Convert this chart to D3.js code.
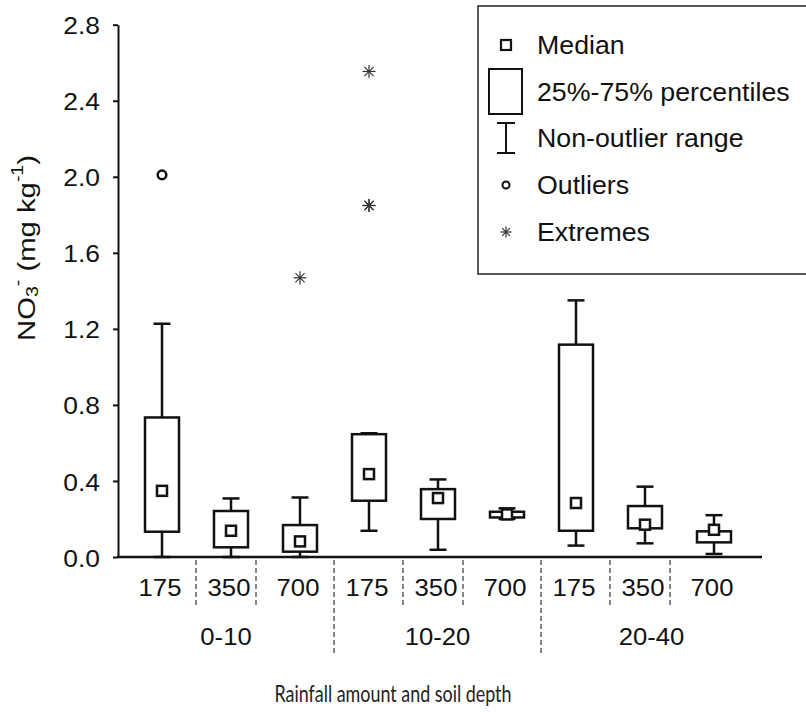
<!DOCTYPE html>
<html>
<head>
<meta charset="utf-8">
<script src="https://cdn.jsdelivr.net/npm/d3@7"></script>
<style>
  body { margin: 0; background: #fff; }
  text { font-family: "Liberation Sans", Arial, sans-serif; fill: #111; }
</style>
</head>
<body>
<div id="chart-area"></div>
<script>
// soil depth groups and rainfall treatments
var depths = ["0-10", "10-20", "20-40"];
var rainfall = ["175", "350", "700"];

// box statistics, one entry per depth x rainfall cell
var whiskerLow  = [0.00, 0.00, 0.00, 0.138, 0.038, 0.200, 0.060, 0.072, 0.016];
var q1          = [0.133, 0.051, 0.028, 0.296, 0.200, 0.208, 0.138, 0.151, 0.077];
var medians     = [0.348, 0.138, 0.082, 0.436, 0.310, 0.224, 0.284, 0.170, 0.143];
var q3          = [0.734, 0.242, 0.168, 0.646, 0.357, 0.238, 1.117, 0.268, 0.135];
var whiskerHigh = [1.227, 0.308, 0.313, 0.651, 0.408, 0.256, 1.350, 0.370, 0.220];

// points beyond the whiskers (cell index, value)
var outlierCell = [0];
var outlierVal  = [2.01];
var extremeCell = [2, 3, 3, 3];
var extremeVal  = [1.469, 2.554, 1.849, 1.849];

var yTicks = [0, 0.4, 0.8, 1.2, 1.6, 2.0, 2.4, 2.8];

var cells = [];
depths.forEach(function (d, gi) {
    rainfall.forEach(function (r, ri) {
        var i = gi * 3 + ri;
        cells.push({
            key: d + "|" + r, depth: d, rain: r,
            lo: whiskerLow[i], q1: q1[i], med: medians[i], q3: q3[i], hi: whiskerHigh[i]
        });
    });
});

var width = 806, height = 712;
var axisLeft = 118, axisRight = 762, axisBottom = 557, axisTop = 24.7;
var boxW = 34, capW = 17, medW = 10;

var svg = d3.select("#chart-area").append("svg")
    .attr("width", width)
    .attr("height", height);

var x = d3.scalePoint()
    .domain(cells.map(function (d) { return d.key; }))
    .range([162, 714]);

var y = d3.scaleLinear()
    .domain([0, 2.8])
    .range([axisBottom, axisTop]);

// text that is drawn a little wide, like the exported figure
function wideText(parent, tx, ty, str, size, sx, anchor) {
    var g = parent.append("g").attr("transform", "translate(" + tx + "," + ty + ")");
    return g.append("text")
        .attr("transform", "scale(" + sx + ",1)")
        .attr("text-anchor", anchor || "middle")
        .attr("dominant-baseline", "central")
        .attr("font-size", size + "px")
        .text(str);
}

// Y axis
var yAxis = svg.append("g")
    .attr("transform", "translate(" + axisLeft + ",0)")
    .call(d3.axisLeft(y).tickValues(yTicks).tickSize(5).tickSizeOuter(0).tickFormat(""));
yAxis.select(".domain").attr("stroke", "#111").attr("stroke-width", 2);
yAxis.selectAll(".tick line").attr("stroke", "#111").attr("stroke-width", 2);

yTicks.forEach(function (t) {
    wideText(svg, 100, y(t) + 1, d3.format(".1f")(t), 24, 1.1, "end");
});

// X axis line
svg.append("line")
    .attr("x1", axisLeft - 1).attr("x2", axisRight)
    .attr("y1", axisBottom).attr("y2", axisBottom)
    .attr("stroke", "#111").attr("stroke-width", 2.5);

// Y axis title, stretched along its baseline
var yTitle = svg.append("g")
    .attr("transform", "translate(27,248) rotate(-90)")
    .append("text")
    .attr("transform", "scale(1.22,1)")
    .attr("text-anchor", "middle")
    .attr("dominant-baseline", "central")
    .attr("font-size", "24px");
yTitle.append("tspan").text("NO");
yTitle.append("tspan").attr("font-size", "16px").attr("dy", 6).text("3");
yTitle.append("tspan").attr("font-size", "16px").attr("dy", -15).text("-");
yTitle.append("tspan").attr("dy", 9).text(" (mg kg");
yTitle.append("tspan").attr("font-size", "16px").attr("dy", -9).text("-1");
yTitle.append("tspan").attr("dy", 9).text(")");

// whiskers
var boxes = svg.append("g").selectAll("g.box")
    .data(cells)
    .enter().append("g")
    .attr("class", "box");

boxes.append("line")
    .attr("x1", function (d) { return x(d.key); })
    .attr("x2", function (d) { return x(d.key); })
    .attr("y1", function (d) { return y(d.lo); })
    .attr("y2", function (d) { return y(d.hi); })
    .attr("stroke", "#111").attr("stroke-width", 2.5);

["lo", "hi"].forEach(function (k) {
    boxes.append("line")
        .attr("x1", function (d) { return x(d.key) - capW / 2; })
        .attr("x2", function (d) { return x(d.key) + capW / 2; })
        .attr("y1", function (d) { return y(d[k]); })
        .attr("y2", function (d) { return y(d[k]); })
        .attr("stroke", "#111").attr("stroke-width", 2.5);
});

// 25-75% boxes
boxes.append("rect")
    .attr("x", function (d) { return x(d.key) - boxW / 2; })
    .attr("y", function (d) { return y(d.q3); })
    .attr("width", boxW)
    .attr("height", function (d) { return y(d.q1) - y(d.q3); })
    .attr("fill", "#fff").attr("stroke", "#111").attr("stroke-width", 2.5);

// medians
boxes.append("rect")
    .attr("x", function (d) { return x(d.key) - medW / 2; })
    .attr("y", function (d) { return y(d.med) - medW / 2; })
    .attr("width", medW).attr("height", medW)
    .attr("fill", "#fff").attr("stroke", "#111").attr("stroke-width", 2.5);

// outliers
svg.append("g").selectAll("circle")
    .data(outlierVal)
    .enter().append("circle")
    .attr("cx", function (d, i) { return x(cells[outlierCell[i]].key); })
    .attr("cy", function (d) { return y(d); })
    .attr("r", 4.3)
    .attr("fill", "none").attr("stroke", "#111").attr("stroke-width", 2.5);

// extremes as asterisks
function asterisk(parent, cx, cy, r) {
    var g = parent.append("g").attr("transform", "translate(" + cx + "," + cy + ")");
    [0, 45, 90, 135].forEach(function (a) {
        var rad = a * Math.PI / 180;
        g.append("line")
            .attr("x1", -r * Math.cos(rad)).attr("y1", -r * Math.sin(rad))
            .attr("x2", r * Math.cos(rad)).attr("y2", r * Math.sin(rad))
            .attr("stroke", "#333").attr("stroke-width", 1.2);
    });
}
extremeVal.forEach(function (v, i) {
    asterisk(svg, x(cells[extremeCell[i]].key), y(v), 6.5);
});

// category table under the axis
var table = svg.append("g");
var dash = function (sx, y2) {
    table.append("line")
        .attr("x1", sx).attr("x2", sx).attr("y1", 560).attr("y2", y2)
        .attr("stroke", "#111").attr("stroke-width", 1).attr("stroke-dasharray", "5,3");
};
cells.forEach(function (c) {
    wideText(table, x(c.key) - 2, 588, c.rain, 24, 1.07);
});
var groupEdges = [axisLeft];
depths.forEach(function (d, gi) {
    var mid = x(d + "|350");
    // short separators around the 350 column
    dash(mid - 35, 608);
    dash(mid + 25, 608);
    if (gi > 0) {
        var gx = x(d + "|175") - 35;
        dash(gx, 655);
        groupEdges.push(gx);
    }
});
groupEdges.push(axisRight);
depths.forEach(function (d, gi) {
    wideText(table, (groupEdges[gi] + groupEdges[gi + 1]) / 2, 637, d, 24, 1.07);
});

svg.append("text")
    .attr("x", 393).attr("y", 693)
    .attr("text-anchor", "middle")
    .attr("dominant-baseline", "central")
    .style("font-family", "Lato, 'Open Sans', sans-serif")
    .attr("font-size", "23px")
    .attr("textLength", 237)
    .attr("lengthAdjust", "spacingAndGlyphs")
    .style("fill", "#222")
    .text("Rainfall amount and soil depth");

// Legend
var legend = svg.append("g");
legend.append("rect")
    .attr("x", 478).attr("y", 6)
    .attr("width", 340).attr("height", 268)
    .attr("fill", "#fff").attr("stroke", "#222").attr("stroke-width", 1.5);

var legendLabels = ["Median", "25%-75% percentiles", "Non-outlier range", "Outliers", "Extremes"];
var legendY = [45, 92, 138, 185, 232];
var lx = 506;

legend.append("rect")
    .attr("x", lx - 5).attr("y", legendY[0] - 5).attr("width", 10).attr("height", 10)
    .attr("fill", "#fff").attr("stroke", "#111").attr("stroke-width", 2.2);
legend.append("rect")
    .attr("x", lx - 17).attr("y", legendY[1] - 23).attr("width", 33).attr("height", 45)
    .attr("fill", "#fff").attr("stroke", "#111").attr("stroke-width", 2);
legend.append("path")
    .attr("d", "M" + (lx - 9) + "," + (legendY[2] - 15) + "h18M" + lx + "," + (legendY[2] - 15) +
        "v30M" + (lx - 9) + "," + (legendY[2] + 15) + "h18")
    .attr("fill", "none").attr("stroke", "#111").attr("stroke-width", 2);
legend.append("circle")
    .attr("cx", lx).attr("cy", legendY[3]).attr("r", 3.5)
    .attr("fill", "none").attr("stroke", "#111").attr("stroke-width", 2);
asterisk(legend, lx, legendY[4], 5.5);

legendLabels.forEach(function (t, i) {
    wideText(legend, 537, legendY[i], t, 25, 1.07, "start");
});
</script>
</body>
</html>
